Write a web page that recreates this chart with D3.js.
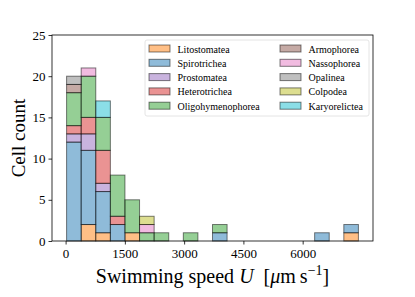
<!DOCTYPE html>
<html>
<head>
<meta charset="utf-8">
<script src="https://cdn.jsdelivr.net/npm/d3@7"></script>
<style>
  body { margin: 0; background: #fff; }
  text { font-family: "Liberation Serif", "DejaVu Serif", serif; fill: #000; }
</style>
</head>
<body>
<div id="chart"></div>
<script>

// histogram: 20 bins between min and max speed
var binMin = 25;
var binMax = 7411;
var nBins  = 20;

var classes = ["Litostomatea","Spirotrichea","Prostomatea","Heterotrichea","Oligohymenophorea",
               "Armophorea","Nassophorea","Opalinea","Colpodea","Karyorelictea"];
var colors  = ["#ff7f0e","#1f77b4","#9467bd","#d62728","#2ca02c",
               "#8c564b","#e377c2","#7f7f7f","#bcbd22","#17becf"];

// counts per bin, one array per class
var litostomatea      = [0,2,1,0,1,0,0,0,0,0,0,0,0,0,0,0,0,0,0,1];
var spirotrichea      = [12,9,5,2,0,0,0,0,0,0,1,0,0,0,0,0,0,1,0,1];
var prostomatea       = [1,2,1,0,0,0,0,0,0,0,0,0,0,0,0,0,0,0,0,0];
var heterotrichea     = [1,2,4,1,0,0,0,0,0,0,0,0,0,0,0,0,0,0,0,0];
var oligohymenophorea = [4,5,4,5,4,1,1,0,1,0,1,0,0,0,0,0,0,0,0,0];
var armophorea        = [1,0,0,0,0,0,0,0,0,0,0,0,0,0,0,0,0,0,0,0];
var nassophorea       = [0,1,0,0,0,1,0,0,0,0,0,0,0,0,0,0,0,0,0,0];
var opalinea          = [1,0,0,0,0,0,0,0,0,0,0,0,0,0,0,0,0,0,0,0];
var colpodea          = [0,0,0,0,0,1,0,0,0,0,0,0,0,0,0,0,0,0,0,0];
var karyorelictea     = [0,0,2,0,0,0,0,0,0,0,0,0,0,0,0,0,0,0,0,0];

var counts = [litostomatea,spirotrichea,prostomatea,heterotrichea,oligohymenophorea,
              armophorea,nassophorea,opalinea,colpodea,karyorelictea];

var xTicks = [0,1500,3000,4500,6000];
var yTicks = [0,5,10,15,20,25];

var svgWidth = 415, svgHeight = 297;
var margin = {top: 35, right: 42, bottom: 56, left: 52};
var width  = svgWidth  - margin.left - margin.right;
var height = svgHeight - margin.top  - margin.bottom;

var binW = (binMax - binMin) / nBins;
var pad  = (binMax - binMin) * 0.05;

var x = d3.scaleLinear().domain([binMin - pad, binMax + pad]).range([0, width]);
var y = d3.scaleLinear().domain([0, 25]).range([height, 0]);

var svg = d3.select("#chart").append("svg")
  .attr("width", svgWidth)
  .attr("height", svgHeight)
  .append("g")
  .attr("transform", "translate(" + margin.left + "," + margin.top + ")");

// build stacked table
var table = d3.range(nBins).map(function(i){
  var row = {bin: i};
  classes.forEach(function(c, k){ row[c] = counts[k][i]; });
  return row;
});
var stack = d3.stack().keys(classes)(table);

stack.forEach(function(layer, k){
  svg.append("g")
    .selectAll("rect")
    .data(layer.filter(function(d){ return d[1] > d[0]; }))
    .enter()
    .append("rect")
    .attr("x", function(d){ return x(binMin + d.data.bin * binW); })
    .attr("width", function(d){ return x(binMin + (d.data.bin + 1) * binW) - x(binMin + d.data.bin * binW); })
    .attr("y", function(d){ return y(d[1]); })
    .attr("height", function(d){ return y(d[0]) - y(d[1]); })
    .attr("fill", colors[k])
    .attr("fill-opacity", 0.5)
    .attr("stroke", "#000")
    .attr("stroke-opacity", 0.5)
    .attr("stroke-width", 1);
});

// axes
var xAxis = d3.axisBottom(x).tickValues(xTicks).tickFormat(d3.format("d")).tickSize(3.5).tickPadding(4);
var yAxis = d3.axisLeft(y).tickValues(yTicks).tickFormat(d3.format("d")).tickSize(3.5).tickPadding(3);

var gx = svg.append("g").attr("transform", "translate(0," + height + ")").call(xAxis);
var gy = svg.append("g").call(yAxis);
[gx, gy].forEach(function(g){
  g.select(".domain").remove();
  g.selectAll("text").style("font-size", "13px").style("font-family", "Liberation Serif");
  g.selectAll("line").attr("stroke", "#000").attr("stroke-width", 0.8);
});

// frame
svg.append("rect")
  .attr("width", width).attr("height", height)
  .attr("fill", "none").attr("stroke", "#000").attr("stroke-width", 0.8);

// axis labels
var xl = svg.append("text")
  .attr("x", width / 2).attr("y", height + 42)
  .attr("text-anchor", "middle")
  .style("font-size", "20px");
xl.append("tspan").text("Swimming speed ");
xl.append("tspan").style("font-style", "italic").text("U");
xl.append("tspan").text("\u2002[");
xl.append("tspan").style("font-style", "italic").text("μ");
xl.append("tspan").text("m\u2009s");
xl.append("tspan").attr("dy", -8).style("font-size", "14px").text("−1");
xl.append("tspan").attr("dy", 8).text("]");

svg.append("text")
  .attr("transform", "translate(" + (-27) + "," + (height / 2) + ") rotate(-90)")
  .attr("text-anchor", "middle")
  .style("font-size", "19px")
  .text("Cell count");

// legend
var legend = svg.append("g").attr("transform", "translate(93,5)");
legend.append("rect")
  .attr("width", 224).attr("height", 76).attr("rx", 2)
  .attr("fill", "#fff").attr("fill-opacity", 0.8)
  .attr("stroke", "#ddd").attr("stroke-width", 0.8);

classes.forEach(function(c, k){
  var col = Math.floor(k / 5), row = k % 5;
  var g = legend.append("g")
    .attr("transform", "translate(" + (4 + col * 131) + "," + (9 + row * 14.3) + ")");
  g.append("rect")
    .attr("x", 0).attr("y", -4).attr("width", 21).attr("height", 7)
    .attr("fill", colors[k]).attr("fill-opacity", 0.5)
    .attr("stroke", "#000").attr("stroke-opacity", 0.5).attr("stroke-width", 1);
  g.append("text")
    .attr("x", 28.5).attr("y", 3.5)
    .style("font-size", "10px")
    .text(c);
});

</script>
</body>
</html>
